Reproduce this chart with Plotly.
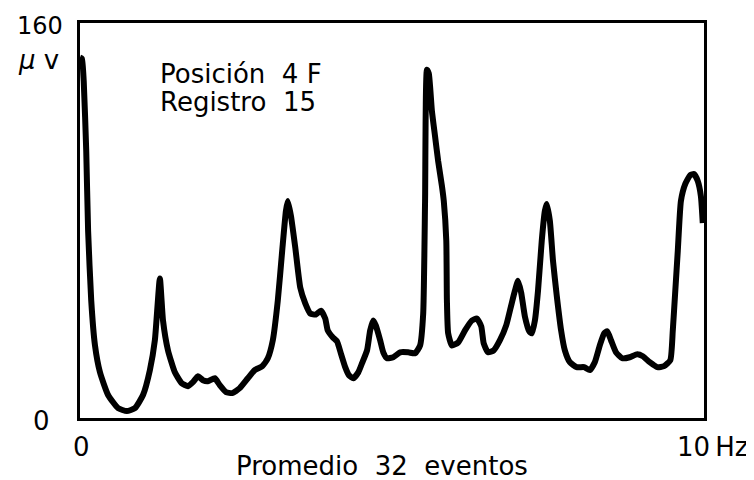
import plotly.graph_objects as go

# espectro: frecuencia (Hz) y amplitud (microvoltios)
freq_hz = [0.0, 0.03, 0.06, 0.10, 0.13, 0.18, 0.24, 0.32, 0.45, 0.61, 0.75, 0.88, 1.01, 1.12,
           1.20, 1.28, 1.33, 1.41, 1.52, 1.63, 1.73, 1.81, 1.89, 1.97, 2.05, 2.16, 2.24, 2.34,
           2.44, 2.56, 2.69, 2.80, 2.92, 3.01, 3.09, 3.17, 3.24, 3.30, 3.33, 3.38, 3.45, 3.53,
           3.61, 3.69, 3.78, 3.86, 3.93, 3.97, 4.05, 4.12, 4.18, 4.25, 4.31, 4.38, 4.46, 4.52,
           4.60, 4.65, 4.70, 4.74, 4.81, 4.86, 4.92, 5.02, 5.13, 5.26, 5.37, 5.45, 5.50, 5.53,
           5.56, 5.59, 5.64, 5.69, 5.74, 5.80, 5.83, 5.87, 5.88, 5.90, 5.96, 6.06, 6.17, 6.28,
           6.36, 6.43, 6.47, 6.54, 6.63, 6.73, 6.83, 6.91, 6.97, 7.02, 7.07, 7.13, 7.20, 7.24,
           7.29, 7.34, 7.40, 7.45, 7.48, 7.53, 7.58, 7.64, 7.71, 7.77, 7.85, 7.96, 8.08, 8.17,
           8.25, 8.33, 8.40, 8.45, 8.51, 8.59, 8.69, 8.81, 8.93, 9.02, 9.13, 9.25, 9.36, 9.46,
           9.50, 9.54, 9.58, 9.63, 9.70, 9.78, 9.84, 9.90, 9.95, 9.98]
amp_uv = [146.0, 145.6, 136.3, 108.1, 75.8, 47.6, 29.4, 18.5, 9.3, 4.0, 2.8, 4.0, 9.3, 19.4,
          31.5, 56.5, 39.5, 27.4, 18.5, 14.1, 12.9, 14.5, 16.9, 15.3, 14.9, 16.1, 13.3, 10.5,
          10.1, 12.1, 16.1, 19.4, 21.0, 24.2, 31.5, 47.6, 67.7, 83.9, 87.9, 81.9, 69.0, 52.8,
          46.4, 42.3, 41.9, 43.5, 40.3, 35.5, 32.7, 31.0, 26.2, 20.6, 17.3, 16.1, 18.5, 22.2,
          27.4, 35.5, 39.5, 37.5, 31.5, 26.6, 24.2, 24.6, 26.6, 26.6, 26.2, 29.4, 42.3, 87.9,
          141.1, 139.5, 124.2, 114.1, 104.0, 94.0, 87.9, 71.8, 47.6, 34.3, 29.4, 30.6, 35.5, 39.5,
          40.3, 37.1, 30.2, 26.6, 27.4, 31.5, 37.5, 45.6, 51.6, 55.6, 50.8, 41.1, 35.1, 34.3,
          39.5, 51.6, 71.8, 83.9, 86.7, 79.8, 63.7, 49.6, 35.5, 27.4, 22.6, 20.6, 20.6, 19.4,
          22.6, 29.4, 34.3, 35.1, 31.5, 26.6, 24.2, 24.6, 25.8, 25.0, 22.6, 20.6, 21.0, 23.4,
          35.5, 51.6, 67.7, 87.9, 94.8, 98.4, 98.8, 96.0, 89.9, 79.0]

txt_font = dict(family="DejaVu Sans", size=26, color="black")

fig = go.Figure(go.Scatter(x=freq_hz, y=amp_uv, mode="lines",
                           line=dict(color="black", width=6, shape="spline", smoothing=0.5)))

fig.update_xaxes(range=[0, 10], showgrid=False, zeroline=False, showticklabels=False,
                 showline=True, linecolor="black", linewidth=2.5, mirror=True)
fig.update_yaxes(range=[0, 160], showgrid=False, zeroline=False, showticklabels=False,
                 showline=True, linecolor="black", linewidth=2.5, mirror=True)

notes = [
    ("<i>μ</i> v", -0.067, 0.907, "center"),
    ("0", -0.061, -0.008, "center"),
    ("0", 0.003, -0.073, "center"),
    ("10\u2009Hz", 1.013, -0.073, "center"),
    ("Promedio  32  eventos", 0.484, -0.121, "center"),
    ("Posición  4 F", 0.125, 0.8715, "left"),
    ("Registro  15", 0.125, 0.801, "left"),
]
for t, x, y, anc in notes:
    fig.add_annotation(text=t, x=x, y=y, xref="paper", yref="paper", showarrow=False,
                       xanchor=anc, yanchor="middle", font=txt_font)

# "160" pegado al borde superior de la figura
fig.add_annotation(text="160", x=-0.064, y=1.0327, xref="paper", yref="paper",
                   showarrow=False, xanchor="center", yanchor="top",
                   font=dict(family="DejaVu Sans", size=24, color="black"))

# la página añade 8 px de margen, por eso la figura es algo menor que la ventana
fig.update_layout(width=746, height=472, margin=dict(l=72, r=50, t=13, b=62),
                  paper_bgcolor="white", plot_bgcolor="white", showlegend=False)
fig.write_html("out.html")
